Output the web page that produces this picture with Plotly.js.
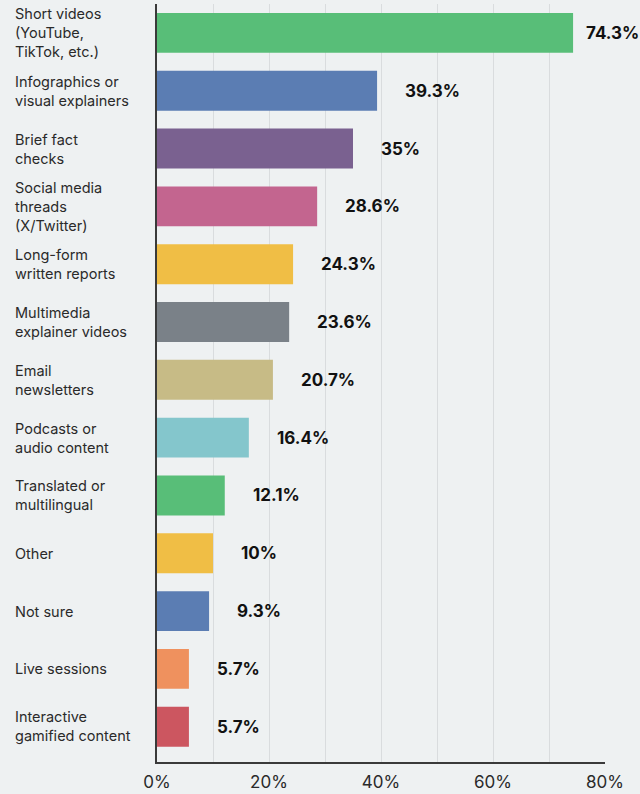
<!DOCTYPE html>
<html>
<head>
<meta charset="utf-8">
<script src="https://cdn.plot.ly/plotly-3.0.1.min.js"></script>
<style>
  html, body { margin: 0; padding: 0; background: #eef1f2; }
  #chart { width: 640px; height: 794px; }
</style>
</head>
<body>
<div id="chart"></div>
<script>
const categories = [
  "Short videos<br>(YouTube,<br>TikTok, etc.)",
  "Infographics or<br>visual explainers",
  "Brief fact<br>checks",
  "Social media<br>threads<br>(X/Twitter)",
  "Long-form<br>written reports",
  "Multimedia<br>explainer videos",
  "Email<br>newsletters",
  "Podcasts or<br>audio content",
  "Translated or<br>multilingual",
  "Other",
  "Not sure",
  "Live sessions",
  "Interactive<br>gamified content"
];
const values = [74.3, 39.3, 35, 28.6, 24.3, 23.6, 20.7, 16.4, 12.1, 10, 9.3, 5.7, 5.7];
const valueLabels = ["74.3%", "39.3%", "35%", "28.6%", "24.3%", "23.6%", "20.7%", "16.4%", "12.1%", "10%", "9.3%", "5.7%", "5.7%"];
const tickVals = [0, 20, 40, 60, 80];
const tickText = ["0%", "20%", "40%", "60%", "80%"];

const barColors = ["#58be78", "#5b7db3", "#7a6190", "#c3658f", "#f0be45", "#7a8188",
  "#c7bb86", "#84c6cc", "#58be78", "#f0be45", "#5b7db3", "#ef915e", "#cc5660"];

const ids = categories.map((c, i) => "c" + i);

const marginL = 157, marginR = 35, W = 640;
const plotW = W - marginL - marginR;
const xMax = 80;

const annotations = [];
categories.forEach((c, i) => {
  annotations.push({
    xref: "paper", yref: "y", x: 0, y: ids[i],
    xanchor: "left", yanchor: "middle", align: "left",
    xshift: -(marginL - 13),
    text: c, showarrow: false,
    font: { family: "Inter, sans-serif", size: 14.5, color: "#2a2a2a" }
  });
});
values.forEach((v, i) => {
  const px = v / xMax * plotW;
  const estW = valueLabels[i].length * 10.6;
  const room = (W - marginL - 3) - px - estW;
  const shift = Math.min(26, room);
  annotations.push({
    xref: "x", yref: "y", x: v, y: ids[i],
    xanchor: "left", yanchor: "middle",
    xshift: shift,
    text: "<b>" + valueLabels[i] + "</b>", showarrow: false,
    font: { family: "Inter, sans-serif", size: 17, color: "#111111" }
  });
});

const trace = {
  type: "bar",
  orientation: "h",
  x: values,
  y: ids,
  marker: { color: barColors },
  hoverinfo: "none",
  cliponaxis: false
};

const layout = {
  width: 640, height: 794,
  paper_bgcolor: "#eef1f2",
  plot_bgcolor: "#eef1f2",
  margin: { l: marginL, r: marginR, t: 4, b: 32, pad: 0 },
  showlegend: false,
  bargap: 0.31,
  xaxis: {
    range: [0, xMax],
    tickvals: tickVals,
    ticktext: tickText,
    showgrid: true,
    gridcolor: "#d9dcde",
    gridwidth: 1,
    minor: { dtick: 10, showgrid: true, gridcolor: "#d9dcde", gridwidth: 1 },
    zeroline: false,
    showline: true,
    linecolor: "#3a3a3a",
    linewidth: 2,
    ticks: "",
    ticklabelstandoff: 4,
    tickfont: { family: "Inter, sans-serif", size: 17, color: "#2a2a2a" },
    fixedrange: true
  },
  yaxis: {
    type: "category",
    range: [12.61, -0.5],
    showticklabels: false,
    showgrid: false,
    zeroline: false,
    showline: true,
    linecolor: "#3a3a3a",
    linewidth: 2,
    ticks: "",
    fixedrange: true
  },
  annotations: annotations
};

Plotly.newPlot("chart", [trace], layout, { displayModeBar: false, staticPlot: true });
</script>
</body>
</html>
